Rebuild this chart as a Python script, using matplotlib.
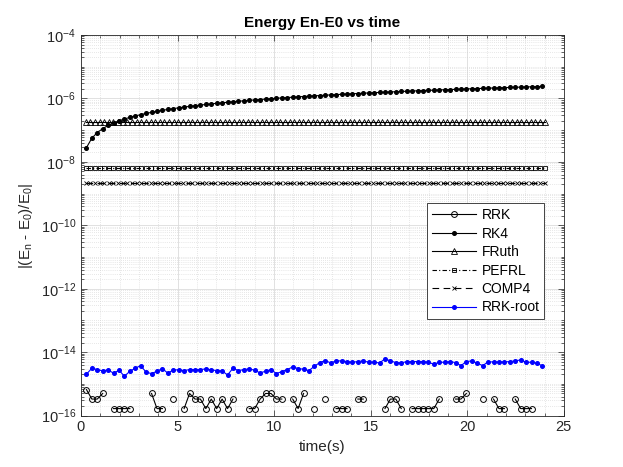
import numpy as np
import matplotlib
matplotlib.use("Agg")
import matplotlib.pyplot as plt
from matplotlib.ticker import LogLocator, FixedLocator, MultipleLocator, NullFormatter

plt.rcParams['font.family'] = ['Liberation Sans', 'DejaVu Sans']
plt.rcParams['mathtext.fontset'] = 'custom'
plt.rcParams['mathtext.rm'] = 'Liberation Sans'
plt.rcParams['mathtext.it'] = 'Liberation Sans:italic'
plt.rcParams['mathtext.bf'] = 'Liberation Sans:bold'

# ---- data ----
# time grid for RRK, RK4, RRK-root (85 steps)
t_a = np.linspace(0.281, 23.89, 85)
# time grid for FRuth, PEFRL, COMP4 (100 steps)
t_b = np.linspace(0.24, 24.0, 100)

rk4_e7 = [0.28, 0.56, 0.84, 1.12, 1.41, 1.69, 1.97, 2.25, 2.53, 2.81, 3.09, 3.37, 3.65, 3.93,
          4.22, 4.50, 4.78, 5.06, 5.34, 5.62, 5.90, 6.18, 6.46, 6.74, 7.03, 7.31, 7.59, 7.87,
          8.15, 8.43, 8.71, 8.99, 9.27, 9.55, 9.84, 10.12, 10.40, 10.68, 10.96, 11.24, 11.52,
          11.80, 12.08, 12.36, 12.65, 12.93, 13.21, 13.49, 13.77, 14.05, 14.33, 14.61, 14.89,
          15.17, 15.46, 15.74, 16.02, 16.30, 16.58, 16.86, 17.14, 17.42, 17.70, 17.98, 18.27,
          18.55, 18.83, 19.11, 19.39, 19.67, 19.95, 20.23, 20.51, 20.79, 21.08, 21.36, 21.64,
          21.92, 22.20, 22.48, 22.76, 23.04, 23.32, 23.60, 23.89]  # units of 1e-7

rrk_root_e15 = [2.02, 3.12, 2.83, 2.57, 2.77, 2.17, 2.70, 1.75, 2.51, 3.12, 3.78, 2.33, 2.12,
                2.51, 3.05, 2.17, 2.77, 2.77, 2.63, 2.83, 2.83, 2.83, 2.97, 2.77, 2.63, 2.57,
                1.92, 3.12, 2.63, 2.83, 2.97, 2.70, 2.22, 2.51, 2.83, 2.12, 2.45, 2.83, 3.44,
                3.05, 2.90, 2.63, 3.61, 4.71, 5.45, 4.59, 5.32, 5.32, 5.06, 4.82, 5.06, 5.32,
                4.82, 4.82, 4.59, 6.15, 5.32, 4.71, 4.59, 5.06, 5.06, 5.06, 5.06, 4.82, 4.17,
                4.82, 4.82, 5.06, 4.71, 3.78, 5.06, 5.32, 4.49, 3.78, 4.94, 4.94, 4.94, 4.94,
                5.06, 5.32, 5.71, 4.82, 4.82, 4.49, 3.70]  # units of 1e-15

# RRK: multiples of 1.665e-16 (0 = exactly zero, not drawn on log axis)
rrk_levels = [4, 2, 2, 3, 0, 1, 1, 1, 1, 0, 0, 0, 3, 1, 1, 0, 2, 0, 1, 3, 2, 2, 1, 2, 1, 2, 1, 2,
              0, 0, 1, 1, 2, 3, 3, 2, 2, 0, 2, 1, 3, 0, 1, 0, 2, 0, 1, 1, 1, 0, 2, 2, 0, 0, 0, 1,
              2, 2, 1, 0, 1, 1, 1, 1, 1, 2, 0, 0, 2, 2, 3, 0, 0, 2, 0, 2, 1, 1, 0, 2, 1, 1, 1, 0, 0]
rrk_unit = 1.665e-16

fruth_val = [1.78e-7] * 100
pefrl_val = [6.35e-9] * 100
comp4_val = [2.2e-9] * 100

labels = ['RRK', 'RK4', 'FRuth', 'PEFRL', 'COMP4', 'RRK-root']
xtick_vals = [0, 5, 10, 15, 20, 25]

# ---- derived ----
rk4 = np.array(rk4_e7) * 1e-7
rrk_root = np.array(rrk_root_e15) * 1e-15
rrk = np.array(rrk_levels, dtype=float) * rrk_unit
rrk[rrk == 0] = np.nan

fig = plt.figure(figsize=(6.23, 4.67), dpi=100)
ax = fig.add_axes([0.13, 0.11, 0.775, 0.815])

lw = 0.8
ax.plot(t_a, rrk, '-', color='k', lw=lw, marker='o', ms=4.2, mfc='none', mec='k', mew=0.7, label=labels[0])
ax.plot(t_a, rk4, '-', color='k', lw=lw, marker='o', ms=2.6, mfc='k', mec='k', label=labels[1])
ax.plot(t_b, fruth_val, '-', color='k', lw=lw, marker='^', ms=4, mfc='none', mec='k', mew=0.6, label=labels[2])
ax.plot(t_b, pefrl_val, ls=(0, (4, 2, 1, 2)), color='k', lw=lw, marker='s', ms=3, mfc='none', mec='k', mew=0.6, label=labels[3])
ax.plot(t_b, comp4_val, ls=(0, (6, 4)), color='k', lw=lw, marker='x', ms=3, mec='k', mew=0.6, label=labels[4])
ax.plot(t_a, rrk_root, '-', color='#0000ff', lw=lw, marker='o', ms=2.6, mfc='#0000ff', mec='#0000ff', label=labels[5])

ax.set_yscale('log')
ax.set_xlim(0, 25)
ax.set_ylim(1e-16, 1e-4)
ax.xaxis.set_major_locator(FixedLocator(xtick_vals))
ax.xaxis.set_minor_locator(MultipleLocator(1))
ax.yaxis.set_major_locator(FixedLocator([10.0**e for e in range(-16, -3, 2)]))
ax.yaxis.set_minor_locator(LogLocator(base=10, subs=np.arange(1, 10), numticks=100))
ax.yaxis.set_minor_formatter(NullFormatter())

ax.grid(True, which='major', color='#dcdcdc', lw=0.6, ls='-')
ax.grid(True, which='minor', color='#d0d0d0', lw=0.5, ls=(0, (1, 2)))
ax.set_axisbelow(True)

ax.tick_params(which='both', direction='in', top=True, right=True, labelsize=10.5, colors='#262626')
ax.tick_params(which='major', length=4, width=0.5)
ax.tick_params(which='minor', length=2, width=0.5)
for s in ax.spines.values():
    s.set_color('#262626')
    s.set_linewidth(0.6)

ax.set_title('Energy En-E0 vs time', fontsize=11, fontweight='bold', pad=6)
ax.set_xlabel('time(s)', fontsize=11, color='#262626')
ax.set_ylabel(r'|(E$_\mathrm{n}$ - E$_\mathrm{0}$)/E$_\mathrm{0}$|', fontsize=11, color='#262626')

leg = ax.legend(loc='lower left', bbox_to_anchor=(0.716, 0.253), fontsize=10, frameon=True,
                fancybox=False, edgecolor='#262626', framealpha=1, handlelength=3.2,
                numpoints=1, labelspacing=0.32, borderpad=0.35, handletextpad=0.4,
                borderaxespad=0)
leg.get_frame().set_linewidth(0.6)

fig.savefig('out.png', dpi=100)
